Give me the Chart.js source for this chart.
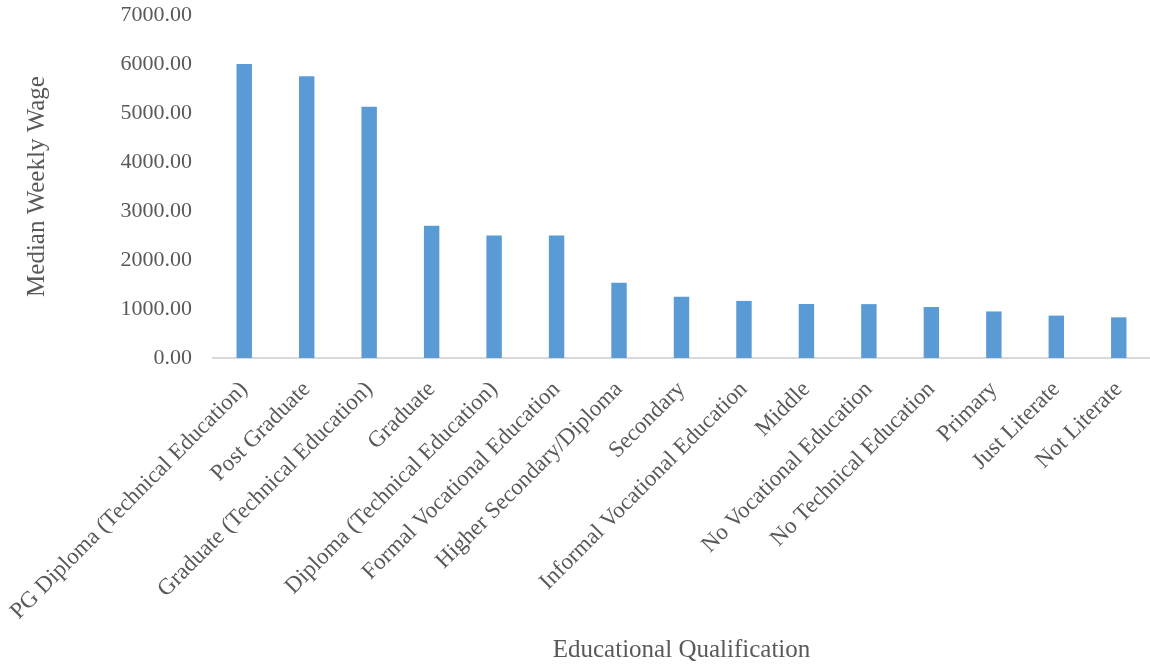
<!DOCTYPE html>
<html>
<head>
<meta charset="utf-8">
<script src="https://cdn.jsdelivr.net/npm/chart.js@4/dist/chart.umd.min.js"></script>
<style>
  html, body { margin: 0; padding: 0; background: #fff; }
  #wrap { width: 1150px; height: 669px; position: relative; }
</style>
</head>
<body>
<div id="wrap"><canvas id="chart"></canvas></div>
<script>
/* ─── Data ─────────────────────────────────────────────────────────────────── */

const categories = [
  'PG Diploma (Technical Education)',
  'Post Graduate',
  'Graduate (Technical Education)',
  'Graduate',
  'Diploma (Technical Education)',
  'Formal Vocational Education',
  'Higher Secondary/Diploma',
  'Secondary',
  'Informal Vocational Education',
  'Middle',
  'No Vocational Education',
  'No Technical Education',
  'Primary',
  'Just Literate',
  'Not Literate',
];

const medianWage = [6000, 5750, 5130, 2700, 2500, 2500, 1535, 1250, 1165, 1100, 1100, 1040, 950, 865, 830];

const yTicks = [0, 1000, 2000, 3000, 4000, 5000, 6000, 7000];

/* ─── Style ────────────────────────────────────────────────────────────────── */

const FONT_FAMILY = '"Liberation Serif", "DejaVu Serif", serif';
const TEXT_COLOR  = '#595959';
const BAR_COLOR   = '#5b9bd5';

new Chart(document.getElementById('chart').getContext('2d'), {
  type: 'bar',
  data: {
    labels: categories,
    datasets: [{
      label: 'Median Weekly Wage',
      data: medianWage,
      backgroundColor: BAR_COLOR,
      borderWidth: 0,
      categoryPercentage: 1,
      barPercentage: 0.247,
    }],
  },
  options: {
    responsive: true,
    maintainAspectRatio: false,
    animation: false,
    // plot runs slightly past the right edge, as in the original
    layout: { padding: { top: 0, right: -4, left: 22, bottom: 4 } },
    plugins: {
      legend:  { display: false },
      tooltip: { enabled: false },
    },
    scales: {
      x: {
        afterFit: axis => {
          axis.height = 307;
          // rotated labels may hang off to the left; don't shrink the plot for them
          axis.paddingLeft = 0;
          axis.paddingRight = -4;
        },
        grid:   { display: false },
        border: { display: true, color: '#d9d9d9', width: 2 },
        ticks: {
          color: TEXT_COLOR,
          font: { family: FONT_FAMILY, size: 23 },
          minRotation: 45,
          maxRotation: 45,
          autoSkip: false,
          padding: 10,
        },
        title: {
          display: true,
          text: 'Educational Qualification',
          color: TEXT_COLOR,
          font: { family: FONT_FAMILY, size: 25 },
          padding: { top: 11, bottom: 0 },
        },
      },
      y: {
        min: 0,
        max: 7000,
        afterBuildTicks: axis => { axis.ticks = yTicks.map(v => ({ value: v })); },
        afterFit: axis => {
          axis.width = 191;
          // keep tick padding out of the space reserved above the plot
          axis.paddingTop = 15;
          axis.paddingBottom = 13;
          axis.paddingLeft = 0;
          axis.paddingRight = -4;
        },
        grid:   { display: false, drawTicks: false },
        border: { display: false },
        ticks: {
          color: TEXT_COLOR,
          font: { family: FONT_FAMILY, size: 22 },
          padding: 21,
          callback: v => Number(v).toFixed(2),
        },
        title: {
          display: true,
          text: 'Median Weekly Wage',
          color: TEXT_COLOR,
          font: { family: FONT_FAMILY, size: 25 },
          padding: { top: 0, bottom: 0 },
        },
      },
    },
  },
});
</script>
</body>
</html>
